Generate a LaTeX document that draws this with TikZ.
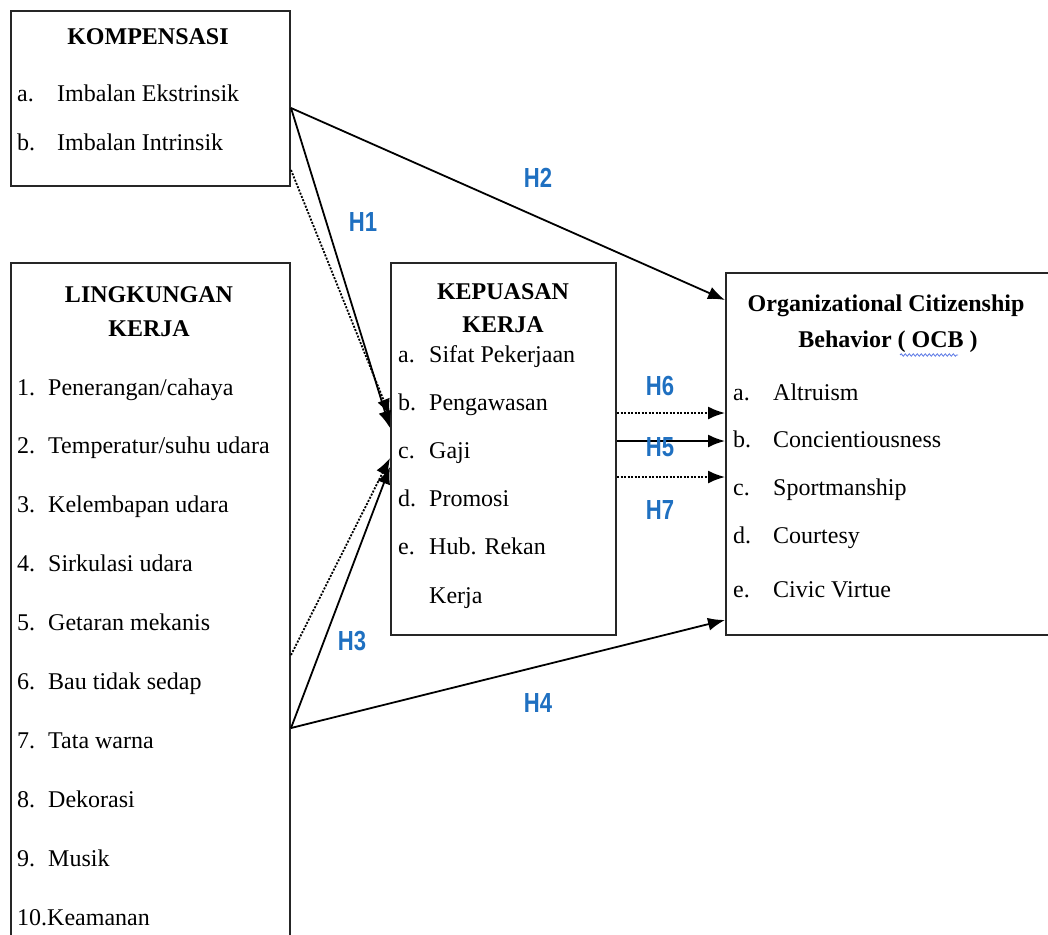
\documentclass[tikz,border=0pt]{standalone}
\usepackage{fontspec}
\setmainfont{Liberation Serif}
\newfontfamily\labfont{Liberation Sans}
\usetikzlibrary{arrows.meta,calc,decorations.pathmorphing}
\definecolor{hblue}{RGB}{31,112,193}
\definecolor{spell}{RGB}{90,120,230}
\begin{document}
\begin{tikzpicture}[x=1pt,y=-1pt,
 box/.style={draw=black!85,line width=2pt,anchor=north west,inner sep=0,fill=white},
 txt/.style={anchor=base west,inner sep=0,font=\fontsize{24}{28}\selectfont},
 ttl/.style={anchor=base,inner sep=0,font=\fontsize{24}{28}\selectfont\bfseries},
 hl/.style={text=hblue,font=\labfont\bfseries\fontsize{24}{27}\selectfont,inner sep=0},
 arr/.style={line width=1.8pt,-{Latex[length=17pt,width=13pt]}},
 darr/.style={arr,dash pattern=on 2pt off 1.5pt},
]
\useasboundingbox (0,0) rectangle (1048,934);
\clip (0,0) rectangle (1048,934);
\fill[white] (0,0) rectangle (1048,934);

% boxes
\node[box,minimum width=279pt,minimum height=175pt] (komp) at (10,10) {};
\node[box,minimum width=279pt,minimum height=700pt] (lingk) at (10,262) {};
\node[box,minimum width=225pt,minimum height=372pt] (kep) at (390,262) {};
\node[box,minimum width=345pt,minimum height=362pt] (ocb) at (725,272) {};

% KOMPENSASI
\node[ttl] (kt) at (148,45) {KOMPENSASI};
\node[txt] (ka) at (17,101) {a.};
\node[txt] (kat) at (57,101) {Imbalan Ekstrinsik};
\node[txt] (kb) at (17,150) {b.};
\node[txt] (kbt) at (57,150) {Imbalan Intrinsik};

% LINGKUNGAN KERJA
\node[ttl] (lt1) at (149,302) {LINGKUNGAN};
\node[ttl] (lt2) at (149,336) {KERJA};
\foreach \n/\t [count=\i from 0] in {1/{Penerangan/cahaya},2/{Temperatur/suhu udara},3/Kelembapan udara,4/Sirkulasi udara,5/Getaran mekanis,6/Bau tidak sedap,7/Tata warna,8/Dekorasi,9/Musik}{
  \node[txt] (ln\n) at (17,395+58.9*\i) {\n.};
  \node[txt] (lx\n) at (48,395+58.9*\i) {\t};
}
\node[txt] (ln10) at (17,925) {10.Keamanan};

% KEPUASAN KERJA
\node[ttl] (pt1) at (503,299) {KEPUASAN};
\node[ttl] (pt2) at (503,332) {KERJA};
\foreach \l/\t [count=\i from 0] in {a/Sifat Pekerjaan,b/Pengawasan,c/Gaji,d/Promosi,e/Hub. Rekan}{
  \node[txt] (pl\l) at (398,362+48.2*\i) {\l.};
  \node[txt] (px\l) at (429,362+48.2*\i) {\t};
}
\node[txt] (pxf) at (429,603) {Kerja};

% OCB
\node[ttl] (ot1) at (886,311) {Organizational Citizenship};
\node[ttl] (ot2) at (888,347) {Behavior ( OCB )};
\draw[spell,line width=0.8pt,decorate,decoration={snake,amplitude=1.2pt,segment length=4pt}] (900,355) -- (958,355);
\foreach \l/\t/\y in {a/Altruism/400,b/Concientiousness/447,c/Sportmanship/495,d/Courtesy/543,e/Civic Virtue/597}{
  \node[txt] (ol\l) at (733,\y) {\l.};
  \node[txt] (ox\l) at (773,\y) {\t};
}

% connector end points
\coordinate (kA) at ($(komp.north east)+(0,98)$);
\coordinate (kB) at ($(komp.north east)+(0,160)$);
\coordinate (lA) at ($(lingk.north east)+(0,393)$);
\coordinate (lB) at ($(lingk.north east)+(0,466)$);
\coordinate (p1) at ($(kep.north west)+(0,154)$);
\coordinate (p2) at ($(kep.north west)+(0,166)$);
\coordinate (p3) at ($(kep.north west)+(0,196)$);
\coordinate (p4) at ($(kep.north west)+(0,205)$);
\coordinate (e6) at ($(kep.north east)+(0,151)$);
\coordinate (e5) at ($(kep.north east)+(0,179)$);
\coordinate (e7) at ($(kep.north east)+(0,215)$);
\coordinate (o2) at ($(ocb.north west)+(0,28)$);
\coordinate (o6) at ($(ocb.north west)+(0,141)$);
\coordinate (o5) at ($(ocb.north west)+(0,169)$);
\coordinate (o7) at ($(ocb.north west)+(0,205)$);
\coordinate (o4) at ($(ocb.north west)+(0,348)$);

% connectors
\draw[arr] (kA) -- (o2);
\draw[arr] (kA) -- (p2);
\draw[darr] (kB) -- (p1);
\draw[darr] (lA) -- (p3);
\draw[arr] (lB) -- (p4);
\draw[arr] (lB) -- (o4);
\draw[darr] (e6) -- (o6);
\draw[arr] (e5) -- (o5);
\draw[darr] (e7) -- (o7);

% labels
\node[hl] (h2) at (538,178) {\scalebox{0.92}[1.15]{H2}};
\node[hl] (h1) at (363,222) {\scalebox{0.92}[1.15]{H1}};
\node[hl] (h6) at (660,386) {\scalebox{0.92}[1.15]{H6}};
\node[hl] (h5) at (660,447) {\scalebox{0.92}[1.15]{H5}};
\node[hl] (h7) at (660,510) {\scalebox{0.92}[1.15]{H7}};
\node[hl] (h3) at (352,641) {\scalebox{0.92}[1.15]{H3}};
\node[hl] (h4) at (538,703) {\scalebox{0.92}[1.15]{H4}};
\end{tikzpicture}
\end{document}
